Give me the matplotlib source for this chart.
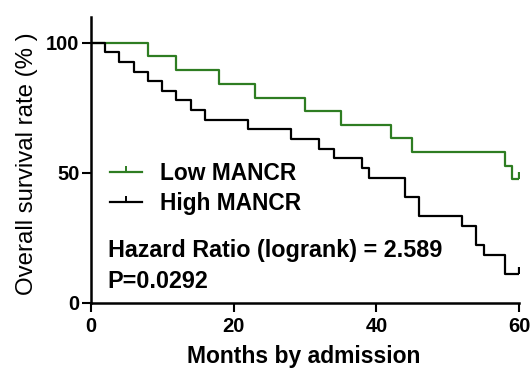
import matplotlib
matplotlib.use("Agg")
import matplotlib.pyplot as plt
from matplotlib.lines import Line2D

# Kaplan-Meier step data (months, % surviving)
low_times = [0, 8, 12, 18, 23, 30, 35, 42, 45, 58, 59, 60]
low_surv = [100, 94.7, 89.5, 84.2, 78.9, 73.7, 68.4, 63.2, 57.9, 52.6, 47.4, 47.4]

high_times = [0, 2, 4, 6, 8, 10, 12, 14, 16, 22, 28, 32, 34, 38, 39, 44, 46,
              52, 54, 55, 58, 60]
high_surv = [100, 96.3, 92.6, 88.9, 85.2, 81.5, 77.8, 74.1, 70.4, 66.7, 63.0,
             59.3, 55.6, 51.9, 48.1, 40.7, 33.3, 29.6, 22.2, 18.5, 11.1, 11.1]

x_ticks = [0, 20, 40, 60]
y_ticks = [0, 50, 100]

plt.rcParams['font.family'] = ['Liberation Sans', 'DejaVu Sans']

green = '#2e7d22'

fig = plt.figure(figsize=(5.31, 3.68), dpi=100)
ax = fig.add_axes([0.1708, 0.1774, 0.8072, 0.7772])

ax.step(low_times, low_surv, where='post', color=green, lw=1.6)
ax.step(high_times, high_surv, where='post', color='black', lw=1.6)
# censor ticks at end of follow-up
ax.plot(low_times[-1:], low_surv[-1:], marker=2, ms=5, mew=1.6, color=green, ls='none')
ax.plot(high_times[-1:], high_surv[-1:], marker=2, ms=5, mew=1.6, color='black', ls='none')

ax.set_xlim(0, 60)
ax.set_ylim(0, 110)
ax.set_xticks(x_ticks)
ax.set_yticks(y_ticks)
for s in ['top', 'right']:
    ax.spines[s].set_visible(False)
for s in ['left', 'bottom']:
    ax.spines[s].set_linewidth(1.8)
ax.tick_params(axis='both', length=6.5, width=1.5, labelsize=14.5)
ax.tick_params(axis='y', pad=1.5)
ax.tick_params(axis='x', pad=4)
for lab in ax.get_xticklabels() + ax.get_yticklabels():
    lab.set_fontweight('bold')

handles = [Line2D([0], [0], color=green, lw=1.6, marker=2, ms=4, mew=1.4),
           Line2D([0], [0], color='black', lw=1.6, marker=2, ms=4, mew=1.4)]
ax.legend(handles, ['Low MANCR', 'High MANCR'], loc='center left',
          bbox_to_anchor=(0.045, 0.40), frameon=False, numpoints=1,
          handlelength=1.4, handletextpad=0.8, labelspacing=0.28,
          borderpad=0, borderaxespad=0,
          prop={'size': 16.4, 'weight': 'bold'})

ax.text(0.040, 0.184, 'Hazard Ratio (logrank) = 2.589', transform=ax.transAxes,
        fontsize=16.8, fontweight='bold', va='center', ha='left')
ax.text(0.040, 0.073, 'P=0.0292', transform=ax.transAxes,
        fontsize=16.8, fontweight='bold', va='center', ha='left')

fig.text(0.5713, 0.0307, 'Months by admission', fontsize=16.5, fontweight='bold',
         ha='center', va='center')
fig.text(0.0508, 0.555, 'Overall survival rate (% )', fontsize=17.3, rotation=90,
         ha='center', va='center')

fig.savefig('out.png', dpi=100)
